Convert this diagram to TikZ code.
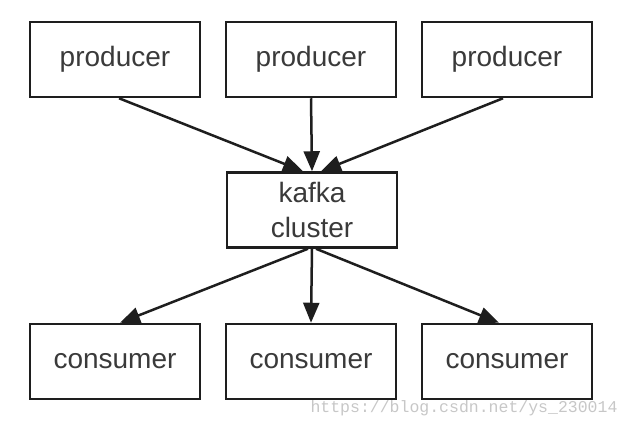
\documentclass[tikz,border=0pt]{standalone}
\usepackage{fontspec}
\setmainfont{Liberation Sans}
\newfontfamily\markfont{Liberation Mono}
\usetikzlibrary{arrows.meta}
\definecolor{boxline}{HTML}{1E1E1E}
\definecolor{boxtext}{HTML}{3A3A3A}
\begin{document}
\begin{tikzpicture}[x=1pt, y=-1pt, auto,
    component/.style ={rectangle, draw=boxline, line width=2.5pt,
      minimum width=170pt, minimum height=75pt, inner sep=0pt,
      text=boxtext, align=center,
      font=\fontsize{28}{35}\selectfont},
    flow/.style ={draw=boxline, line width=2.5pt,
      -{Triangle[length=20pt, width=16pt]}}]
   \useasboundingbox (0,0) rectangle (632,426);

   \node[component] (P1) at (115,59.5)  {producer};
   \node[component] (P2) at (311,59.5)  {producer};
   \node[component] (P3) at (507,59.5)  {producer};
   \node[component] (K)  at (312,210)   {kafka\\cluster};
   \node[component] (C1) at (115,361.5) {consumer};
   \node[component] (C2) at (311,361.5) {consumer};
   \node[component] (C3) at (507,361.5) {consumer};

   \draw[flow] ([xshift=4pt]P1.south) to ([xshift=-9pt]K.north);
   \draw[flow] (P2.south) to (K.north);
   \draw[flow] ([xshift=-4pt]P3.south) to ([xshift=9pt]K.north);
   \draw[flow] ([xshift=-4pt]K.south) to ([xshift=5pt]C1.north);
   \draw[flow] (K.south) to (C2.north);
   \draw[flow] ([xshift=4pt]K.south) to ([xshift=-8pt]C3.north);

   \node[text=black!22, font=\markfont\fontsize{16.5}{18}\selectfont,
     anchor=base east] (url) at (621,412) {https://blog.csdn.net/ys\_230014};
\end{tikzpicture}
\end{document}
